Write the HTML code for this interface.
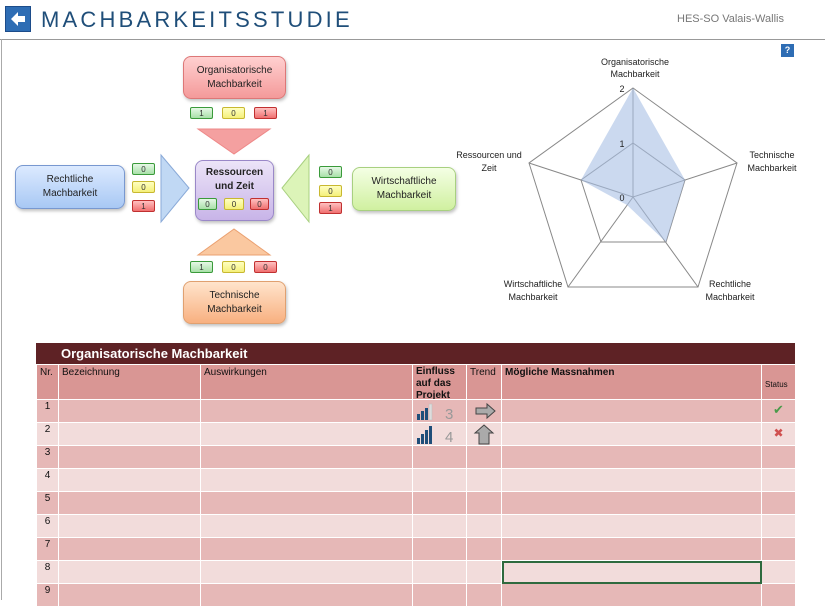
<!DOCTYPE html>
<html><head><meta charset="utf-8"><style>
*{margin:0;padding:0;box-sizing:border-box}
body{width:825px;height:600px;overflow:hidden;background:#fff;font-family:"Liberation Sans",sans-serif;position:relative}
.a{position:absolute}
.box{position:absolute;border-radius:8px;font-size:10px;color:#222;text-align:center;display:flex;align-items:center;justify-content:center;line-height:14px;box-shadow:1px 2px 3px rgba(0,0,0,.25)}
.bd{position:absolute;width:23px;height:12px;border-radius:2px;font-size:8px;text-align:center;line-height:11px;color:#333}
.g{background:linear-gradient(#e6f8e6,#a8e0a8);border:1px solid #3a9a3a}
.y{background:linear-gradient(#ffffc0,#f5f07a);border:1px solid #c8b830}
.r{background:linear-gradient(#ffc0c0,#f07070);border:1px solid #c03030}
table{position:absolute;left:36px;top:364px;border-collapse:collapse;width:759px;font-size:10px;color:#111;table-layout:fixed}
td{border:1px solid #fff;vertical-align:top;padding:0 3px;height:23px;line-height:14px;overflow:hidden}
tr.o td{background:#e6b8b7}tr.e td{background:#f2dcdb}
tr.h td{background:#d99694;height:35px;padding-top:1px}
tr.h td div{height:33px;overflow:hidden}
svg{display:block}
</style></head><body>
<div class="a" style="left:0;top:39px;width:825px;height:1px;background:#999"></div>
<div class="a" style="left:1px;top:39px;width:1px;height:561px;background:#aaa"></div>
<div class="a" style="left:5px;top:6px;width:26px;height:26px;background:#2e6db4;border:1px solid #1c4c8a"></div>
<svg class="a" style="left:5px;top:6px" width="26" height="26"><polygon points="6,13 13,6 13,10 20,10 20,16 13,16 13,20" fill="#fff"/></svg>
<div class="a" style="left:41px;top:7px;font-size:22px;letter-spacing:3.2px;color:#1f4e79">MACHBARKEITSSTUDIE</div>
<div class="a" style="left:677px;top:13px;font-size:11px;color:#777">HES-SO Valais-Wallis</div>
<div class="a" style="left:781px;top:44px;width:13px;height:13px;background:#2e6db4;color:#fff;font-size:9px;font-weight:bold;text-align:center;line-height:13px">?</div>

<svg class="a" style="left:0;top:0" width="825" height="340">
<polygon points="198,129 270,129 234,154" fill="#f4a0a0" stroke="#e88" />
<polygon points="198,255 270,255 234,229" fill="#fac8a0" stroke="#eaa070"/>
<polygon points="161,155 189,188 161,222" fill="#c0d8f4" stroke="#8aaad8"/>
<polygon points="309,155 282,188 309,222" fill="#dcf4b8" stroke="#a8d080"/>
<g stroke="#888" fill="none" stroke-width="1">
<polygon points="633,88 737,163 698,287 568,287 529,163"/>
<polygon points="633,143 685,180 666,242 601,242 581,180"/>
<line x1="633" y1="197" x2="633" y2="88"/><line x1="633" y1="197" x2="737" y2="163"/><line x1="633" y1="197" x2="698" y2="287"/><line x1="633" y1="197" x2="568" y2="287"/><line x1="633" y1="197" x2="529" y2="163"/>
</g>
<polygon points="633,88 685,180 666,242 627,205 581,180" fill="#a8c0e4" fill-opacity=".6"/>
<g font-size="9" fill="#222" text-anchor="middle" font-family="Liberation Sans">
<text x="635" y="65">Organisatorische</text><text x="635" y="77">Machbarkeit</text>
<text x="622" y="92">2</text><text x="622" y="147">1</text><text x="622" y="201">0</text>
<text x="772" y="158">Technische</text><text x="772" y="171">Machbarkeit</text>
<text x="489" y="158">Ressourcen und</text><text x="489" y="171">Zeit</text>
<text x="730" y="287">Rechtliche</text><text x="730" y="300">Machbarkeit</text>
<text x="533" y="287">Wirtschaftliche</text><text x="533" y="300">Machbarkeit</text>
</g>
</svg>

<div class="box" style="left:183px;top:56px;width:103px;height:43px;background:linear-gradient(#ffd0d0,#f49a9a);border:1px solid #d77">Organisatorische<br>Machbarkeit</div>
<div class="box" style="left:183px;top:281px;width:103px;height:43px;background:linear-gradient(#ffe4cc,#f8b080);border:1px solid #e0a070">Technische<br>Machbarkeit</div>
<div class="box" style="left:15px;top:165px;width:110px;height:44px;background:linear-gradient(#dceaff,#a8c8f4);border:1px solid #7898d0">Rechtliche<br>Machbarkeit</div>
<div class="box" style="left:352px;top:167px;width:104px;height:44px;background:linear-gradient(#f4ffe4,#d0f0a0);border:1px solid #a8d080">Wirtschaftliche<br>Machbarkeit</div>
<div class="box" style="left:195px;top:160px;width:79px;height:61px;background:linear-gradient(#ece4f8,#c8b4e8);border:1px solid #9a88c8;align-items:flex-start;padding-top:5px;font-weight:bold">Ressourcen<br>und Zeit</div>

<div class="bd g" style="left:190px;top:107px">1</div><div class="bd y" style="left:222px;top:107px">0</div><div class="bd r" style="left:254px;top:107px">1</div>
<div class="bd g" style="left:190px;top:261px">1</div><div class="bd y" style="left:222px;top:261px">0</div><div class="bd r" style="left:254px;top:261px">0</div>
<div class="bd g" style="left:198px;top:198px;width:19px">0</div><div class="bd y" style="left:224px;top:198px;width:20px">0</div><div class="bd r" style="left:250px;top:198px;width:19px">0</div>
<div class="bd g" style="left:132px;top:163px">0</div><div class="bd y" style="left:132px;top:181px">0</div><div class="bd r" style="left:132px;top:200px">1</div>
<div class="bd g" style="left:319px;top:166px">0</div><div class="bd y" style="left:319px;top:185px">0</div><div class="bd r" style="left:319px;top:202px">1</div>

<div class="a" style="left:36px;top:343px;width:759px;height:21px;background:#5e2225;color:#fff;font-weight:bold;font-size:13px;padding:3px 0 0 25px">Organisatorische Machbarkeit</div>
<table>
<colgroup><col style="width:22px"><col style="width:142px"><col style="width:212px"><col style="width:54px"><col style="width:35px"><col style="width:260px"><col style="width:34px"></colgroup>
<tr class="h"><td><div>Nr.</div></td><td><div>Bezeichnung</div></td><td><div>Auswirkungen</div></td><td style="font-weight:bold;line-height:12px"><div>Einfluss auf das Projekt</div></td><td><div>Trend</div></td><td style="font-weight:bold"><div>Mögliche Massnahmen</div></td><td style="font-size:8px"><div style="padding-top:12px">Status</div></td></tr>
<tr class="o"><td style="text-align:center">1</td><td></td><td></td><td style="padding:2px 2px 0"><svg width="50" height="19"><rect x="2" y="12" width="3" height="6" fill="#1f4e79"/><rect x="6" y="9" width="3" height="9" fill="#1f4e79"/><rect x="10" y="6" width="3" height="12" fill="#1f4e79"/><rect x="14" y="2" width="3" height="16" fill="#ddd" stroke="#bbb" stroke-width=".5"/><text x="30" y="17" font-size="15" fill="#999" font-family="Liberation Sans">3</text></svg></td><td style="padding:2px 0 0 4px"><svg width="28" height="18"><polygon points="5,6 16,6 16,2 24,9 16,16 16,12 5,12" fill="#aaa" stroke="#444"/></svg></td><td></td><td style="text-align:center;color:#4a9a4a;font-size:13px;padding:3px 0 0">✔</td></tr>
<tr class="e"><td style="text-align:center">2</td><td></td><td></td><td style="padding:1px 2px 0"><svg width="50" height="21"><rect x="2" y="14" width="3" height="6" fill="#1f4e79"/><rect x="6" y="10" width="3" height="10" fill="#1f4e79"/><rect x="10" y="6" width="3" height="14" fill="#1f4e79"/><rect x="14" y="2" width="3" height="18" fill="#1f4e79"/><text x="30" y="18" font-size="15" fill="#999" font-family="Liberation Sans">4</text></svg></td><td style="padding:1px 0 0 4px"><svg width="28" height="21"><polygon points="13,1 22,9 18,9 18,20 8,20 8,9 4,9" fill="#aaa" stroke="#444"/></svg></td><td></td><td style="text-align:center;color:#d05050;font-size:12px;padding:3px 0 0">✖</td></tr>
<tr class="o"><td style="text-align:center">3</td><td></td><td></td><td></td><td></td><td></td><td></td></tr>
<tr class="e"><td style="text-align:center">4</td><td></td><td></td><td></td><td></td><td></td><td></td></tr>
<tr class="o"><td style="text-align:center">5</td><td></td><td></td><td></td><td></td><td></td><td></td></tr>
<tr class="e"><td style="text-align:center">6</td><td></td><td></td><td></td><td></td><td></td><td></td></tr>
<tr class="o"><td style="text-align:center">7</td><td></td><td></td><td></td><td></td><td></td><td></td></tr>
<tr class="e"><td style="text-align:center">8</td><td></td><td></td><td></td><td></td><td style="outline:2px solid #2e6a3e;outline-offset:-2px"></td><td></td></tr>
<tr class="o"><td style="text-align:center">9</td><td></td><td></td><td></td><td></td><td></td><td></td></tr>
</table>
</body></html>
